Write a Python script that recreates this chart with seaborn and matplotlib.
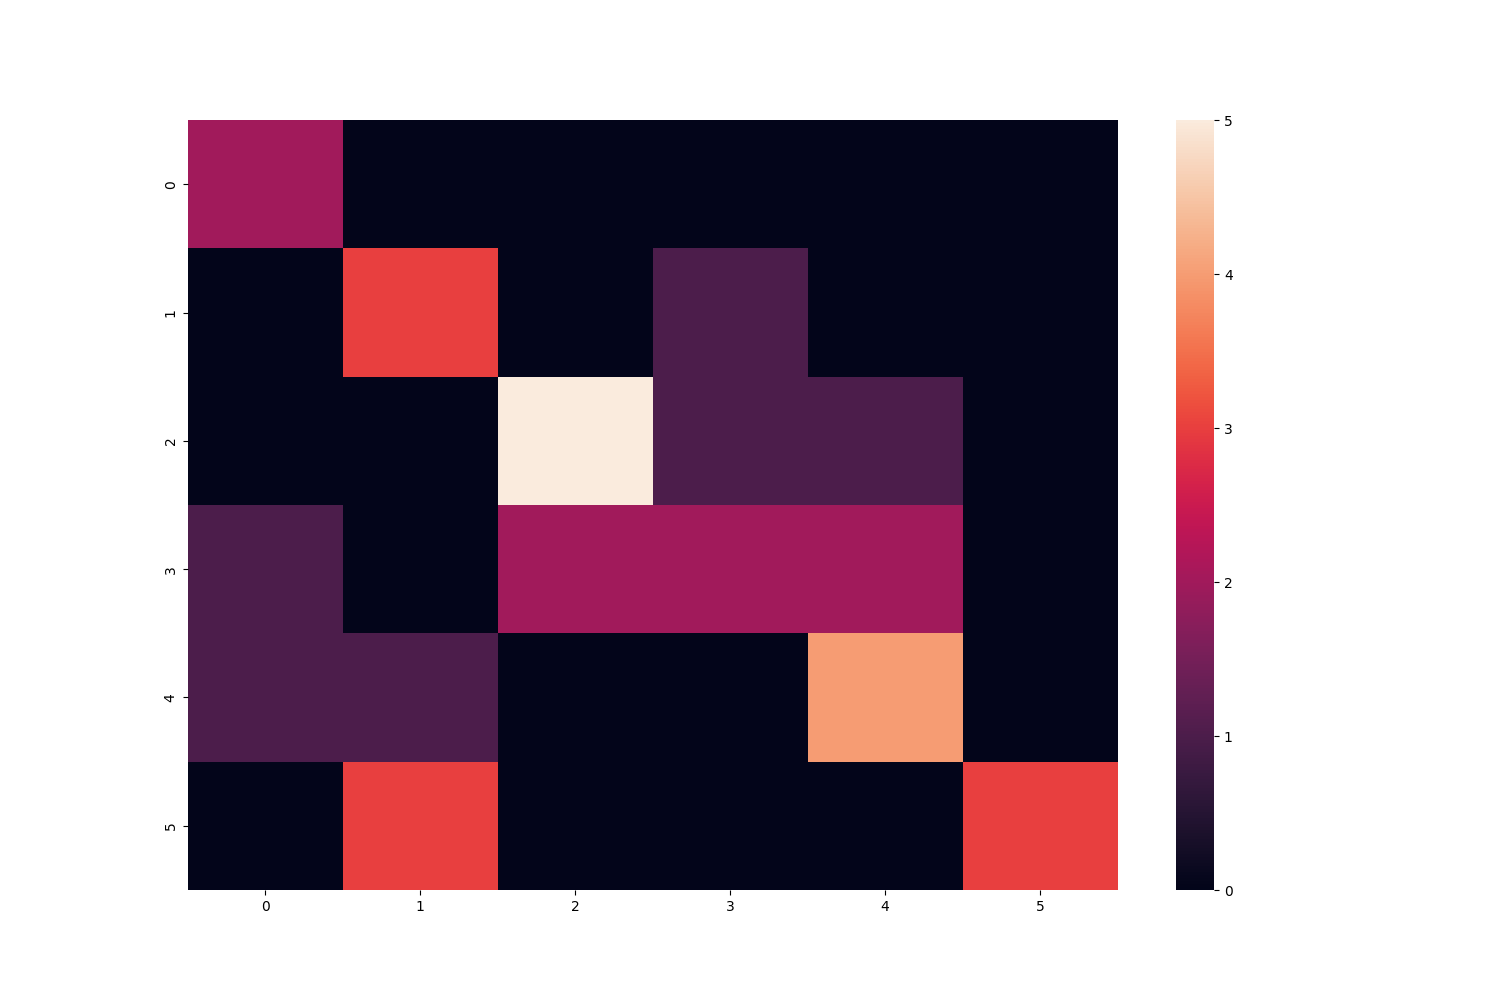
import matplotlib
matplotlib.use("Agg")
import matplotlib.pyplot as plt
import seaborn as sns
import pandas as pd

# Confusion-matrix style counts
labels = [0, 1, 2, 3, 4, 5]
row_0 = [2, 0, 0, 0, 0, 0]
row_1 = [0, 3, 0, 1, 0, 0]
row_2 = [0, 0, 5, 1, 1, 0]
row_3 = [1, 0, 2, 2, 2, 0]
row_4 = [1, 1, 0, 0, 4, 0]
row_5 = [0, 3, 0, 0, 0, 3]

matrix = pd.DataFrame([row_0, row_1, row_2, row_3, row_4, row_5],
                      index=labels, columns=labels)

fig = plt.figure(figsize=(15, 10), dpi=100)
sns.heatmap(matrix)
plt.savefig("out.png")
